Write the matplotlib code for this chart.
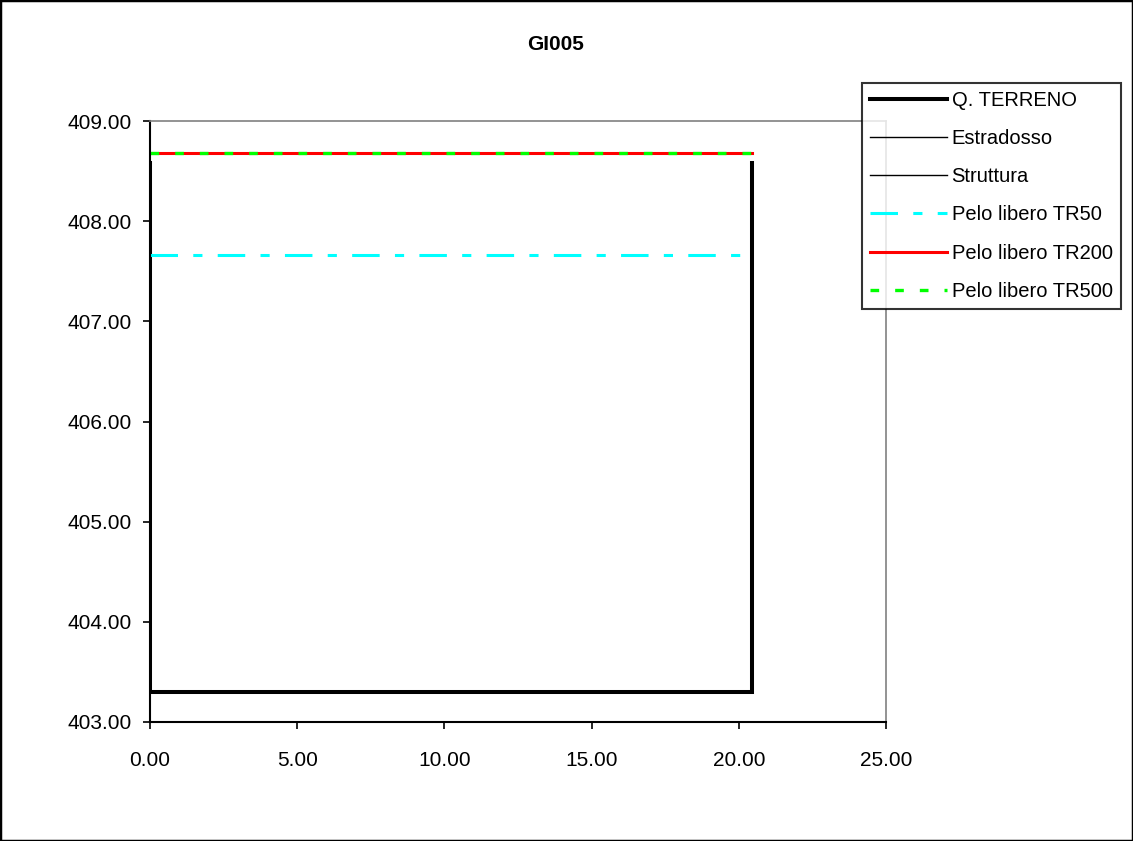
import matplotlib.pyplot as plt
from matplotlib.patches import Rectangle

plt.rcParams['font.family'] = ['Liberation Sans', 'DejaVu Sans']

# section data
terreno_x = [0.0, 0.0, 20.45, 20.45]
terreno_y = [408.58, 403.30, 403.30, 408.58]
estradosso_x = []
estradosso_y = []
struttura_x = []
struttura_y = []
pelo_x = [0.0, 20.45]
tr50 = [407.66, 407.66]
tr200 = [408.68, 408.68]
tr500 = [408.68, 408.68]

fig = plt.figure(figsize=(11.33, 8.41), dpi=100)
ax = fig.add_axes([0.1324, 0.1415, 0.6497, 0.7146])

ax.plot(terreno_x, terreno_y, color='black', lw=2.9, label='Q. TERRENO',
        solid_joinstyle='miter')
ax.plot(estradosso_x, estradosso_y, color='black', lw=1.0, label='Estradosso')
ax.plot(struttura_x, struttura_y, color='black', lw=1.0, label='Struttura')
ax.plot(pelo_x, tr50, color='#00ffff', lw=2.2, dashes=(9, 5, 3, 5),
        label='Pelo libero TR50')
ax.plot(pelo_x, tr200, color='#ff0000', lw=2.2, label='Pelo libero TR200')
ax.plot(pelo_x, tr500, color='#00ff00', lw=2.4, dashes=(2.6, 4.8),
        label='Pelo libero TR500')

ax.set_xlim(0, 25)
ax.set_ylim(403, 409)
ax.set_xticks([0, 5, 10, 15, 20, 25])
ax.set_yticks([403, 404, 405, 406, 407, 408, 409])
ax.xaxis.set_major_formatter(plt.FormatStrFormatter('%.2f'))
ax.yaxis.set_major_formatter(plt.FormatStrFormatter('%.2f'))
ax.tick_params(axis='x', direction='out', length=5, width=1.2, pad=16, labelsize=15)
ax.tick_params(axis='y', direction='out', length=5, width=1.2, pad=8, labelsize=15)

for s in ['left', 'bottom']:
    ax.spines[s].set_color('black')
    ax.spines[s].set_linewidth(1.5)
for s in ['top', 'right']:
    ax.spines[s].set_color('#808080')
    ax.spines[s].set_linewidth(1.2)

fig.text(556 / 1133, 1 - 44 / 841, 'GI005', ha='center', va='center',
         fontsize=15, fontweight='bold')

leg = fig.legend(loc='upper left', bbox_to_anchor=(862 / 1133, 1 - 83 / 841),
                 fontsize=14.5, frameon=True, fancybox=False, borderaxespad=0,
                 handlelength=3.8, handletextpad=0.25, labelspacing=0.95,
                 borderpad=0.4)
leg.get_frame().set_edgecolor('black')
leg.get_frame().set_linewidth(1.5)

fig.patches.append(Rectangle((0, 0), 1, 1, transform=fig.transFigure,
                             fill=False, edgecolor='black', lw=2.5))

fig.savefig('out.png', dpi=100)
